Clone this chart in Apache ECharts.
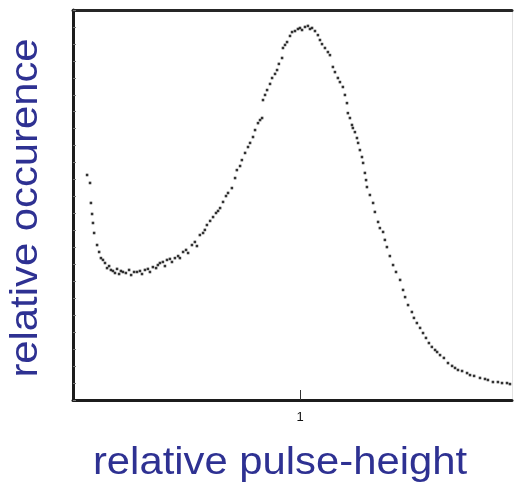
<!DOCTYPE html>
<html>
<head>
<meta charset="utf-8">
<script src="https://cdn.jsdelivr.net/npm/echarts@6/dist/echarts.min.js"></script>
<style>
  html, body { margin: 0; padding: 0; background: #fff; }
  #chart { width: 514px; height: 487px; }
</style>
</head>
<body>
<div id="chart"></div>
<script>
// Pulse-height spectrum: relative pulse height vs. counts
const pulseHeight = [
  0.062, 0.075, 0.079, 0.084, 0.088, 0.093, 0.106, 0.115, 0.123, 0.132,
  0.141, 0.150, 0.159, 0.167, 0.176, 0.185, 0.194, 0.203, 0.211, 0.220,
  0.233, 0.247, 0.256, 0.269, 0.282, 0.295, 0.304, 0.317, 0.330, 0.339,
  0.352, 0.366, 0.374, 0.383, 0.396, 0.405, 0.414, 0.427, 0.436, 0.449,
  0.463, 0.471, 0.485, 0.498, 0.507, 0.524, 0.537, 0.546, 0.559, 0.573,
  0.581, 0.590, 0.604, 0.617, 0.630, 0.639, 0.648, 0.661, 0.674, 0.683,
  0.700, 0.714, 0.722, 0.736, 0.744, 0.758, 0.771, 0.780, 0.793, 0.802,
  0.815, 0.824, 0.833, 0.837, 0.846, 0.855, 0.868, 0.877, 0.890, 0.899,
  0.907, 0.921, 0.925, 0.934, 0.943, 0.956, 0.965, 0.978, 0.991, 1.000,
  1.009, 1.022, 1.035, 1.044, 1.053, 1.066, 1.079, 1.088, 1.097, 1.110,
  1.123, 1.132, 1.145, 1.154, 1.167, 1.176, 1.189, 1.198, 1.207, 1.211,
  1.220, 1.229, 1.233, 1.242, 1.251, 1.256, 1.264, 1.273, 1.278, 1.286,
  1.291, 1.295, 1.308, 1.322, 1.330, 1.344, 1.352, 1.366, 1.374, 1.383,
  1.396, 1.410, 1.423, 1.441, 1.454, 1.463, 1.476, 1.493, 1.502, 1.515,
  1.529, 1.542, 1.555, 1.568, 1.581, 1.595, 1.604, 1.617, 1.634, 1.652,
  1.670, 1.683, 1.696, 1.714, 1.736, 1.749, 1.767, 1.793, 1.815, 1.828,
  1.850, 1.872, 1.890, 1.912, 1.925
];
const occurrence = [
  132.7, 128.0, 116.2, 109.7, 104.4, 98.5, 91.4, 87.3, 83.7, 82.6,
  80.8, 77.8, 79.0, 76.7, 76.1, 74.9, 77.3, 74.3, 76.1, 75.5,
  74.9, 76.7, 73.7, 75.5, 75.5, 76.1, 74.3, 76.7, 77.3, 75.5,
  78.4, 77.8, 79.6, 80.8, 81.4, 79.0, 82.6, 83.2, 81.4, 83.7,
  84.9, 83.7, 87.3, 88.5, 86.7, 91.4, 93.2, 90.8, 97.3, 98.5,
  100.3, 103.2, 105.6, 107.9, 110.3, 111.5, 113.2, 116.8, 120.3, 122.1,
  125.0, 130.9, 135.6, 138.0, 141.5, 145.7, 149.2, 151.6, 155.1, 159.2,
  163.3, 165.1, 166.3, 176.9, 179.9, 182.8, 186.4, 189.9, 192.3, 194.6,
  198.2, 201.7, 207.6, 209.4, 211.1, 214.7, 217.0, 217.6, 218.8, 219.4,
  218.2, 220.0, 220.6, 218.8, 219.4, 217.6, 215.2, 212.3, 209.9, 207.6,
  205.2, 203.4, 196.4, 193.4, 189.9, 187.5, 184.6, 179.9, 175.1, 169.2,
  166.3, 162.2, 160.4, 158.0, 154.5, 151.6, 147.4, 143.3, 139.8, 133.9,
  129.7, 125.6, 120.9, 116.2, 110.9, 105.0, 101.4, 99.1, 94.4, 90.2,
  84.9, 79.6, 75.5, 70.8, 64.9, 60.7, 56.0, 51.9, 48.4, 45.4,
  42.5, 39.5, 36.6, 33.6, 31.3, 29.5, 28.3, 26.5, 24.8, 21.8,
  20.1, 18.9, 17.7, 17.1, 15.9, 14.7, 14.2, 13.0, 12.4, 11.8,
  10.6, 10.6, 10.0, 10.0, 9.4
];
const xTickValues = [1];
const xTitle = 'relative pulse-height';
const yTitle = 'relative occurence';

const titleColor = '#2e3192';
const titleFont = '38px "Liberation Sans", Arial, sans-serif';

const points = pulseHeight.map((x, i) => [x, occurrence[i]]);

const chart = echarts.init(document.getElementById('chart'), null, { renderer: 'canvas' });
chart.setOption({
  animation: false,
  backgroundColor: '#ffffff',
  grid: { left: 73, right: 2, top: 10, bottom: 87 },
  xAxis: [
    {
      type: 'value', min: 0, max: 1.934, position: 'bottom',
      splitLine: { show: false },
      axisLine: { show: true, onZero: false, lineStyle: { color: '#1c1c1c', width: 3 } },
      axisTick: { show: true, inside: true, length: 10, customValues: xTickValues,
                  lineStyle: { color: '#333', width: 1 } },
      axisLabel: { show: true, customValues: xTickValues, margin: 11,
                   color: '#111', fontSize: 13, fontFamily: 'Liberation Sans, Arial, sans-serif' }
    },
    {
      type: 'value', min: 0, max: 1.934, position: 'top',
      splitLine: { show: false },
      axisLine: { show: true, onZero: false, lineStyle: { color: '#262626', width: 3 } },
      axisTick: { show: false }, axisLabel: { show: false }
    }
  ],
  yAxis: [
    {
      type: 'value', min: 0, max: 230, interval: 10, position: 'left',
      splitLine: { show: false },
      axisLine: { show: true, onZero: false, lineStyle: { color: '#1c1c1c', width: 3 } },
      axisTick: { show: true, inside: true, length: 3, lineStyle: { color: '#777', width: 1 } },
      axisLabel: { show: false }
    },
    {
      type: 'value', min: 0, max: 230, position: 'right',
      splitLine: { show: false },
      axisLine: { show: true, onZero: false, lineStyle: { color: '#e2e2e2', width: 1 } },
      axisTick: { show: false }, axisLabel: { show: false }
    }
  ],
  series: [
    {
      type: 'scatter',
      xAxisIndex: 0, yAxisIndex: 0,
      data: points,
      symbol: 'rect',
      symbolSize: 2.6,
      itemStyle: { color: '#000' },
      silent: true
    }
  ],
  graphic: [
    {
      type: 'text', x: 280, y: 464, scaleX: 1.1,
      style: { text: xTitle, font: titleFont, fill: titleColor,
               textAlign: 'center', textVerticalAlign: 'middle' }
    },
    {
      type: 'text', x: 27, y: 208, rotation: Math.PI / 2, scaleX: 1.1,
      style: { text: yTitle, font: titleFont, fill: titleColor,
               textAlign: 'center', textVerticalAlign: 'middle' }
    }
  ]
});
</script>
</body>
</html>
